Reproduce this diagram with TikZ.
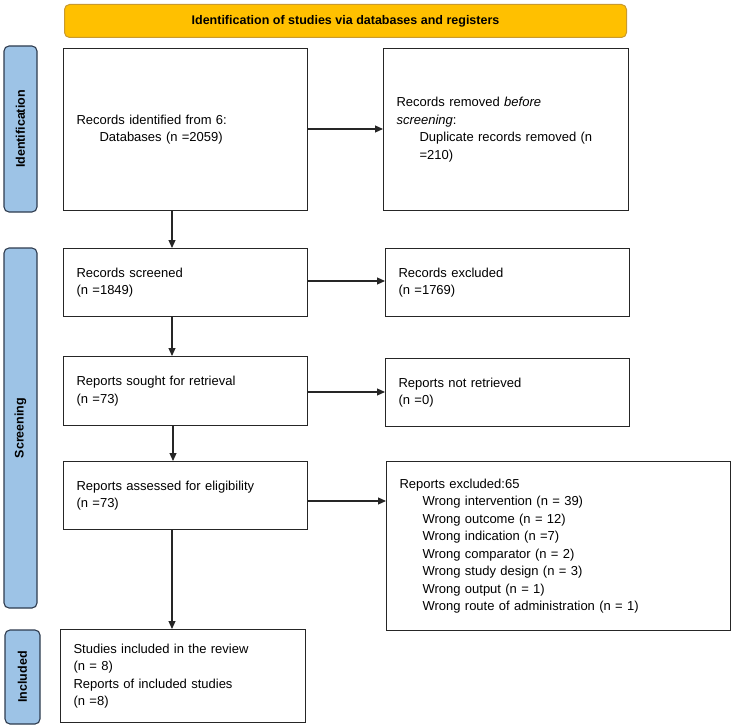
\documentclass[tikz,border=0pt]{standalone}
\usepackage{fontspec}
\setmainfont{Liberation Sans}
\usetikzlibrary{arrows.meta}
\definecolor{bannerfill}{HTML}{FFC000}
\definecolor{bannerdraw}{HTML}{C99A2E}
\definecolor{sidefill}{HTML}{9DC3E6}
\definecolor{sidedraw}{HTML}{2E3B4E}
\tikzset{
  box/.style={draw=black!85, line width=1.1pt, fill=white, inner sep=0pt, align=left, font=\fontsize{13}{17.5}\selectfont},
  side/.style={draw=sidedraw, fill=sidefill, line width=1.1pt, rounded corners=5pt},
  sidetext/.style={rotate=90, font=\bfseries\fontsize{12.5}{15}\selectfont},
  arr/.style={-{Triangle[length=8pt,width=7pt]}, line width=1.1pt, black!85},
}
\newcommand{\bx}[6]{% name, x1,y1,x2,y2, text
  \node[box, minimum width={#4-#2}, minimum height={#5-#3}, text width={#4-#2-26}, anchor=north west] (#1) at (#2,#3) {#6};}
\begin{document}
\begin{tikzpicture}[x=1pt,y=-1pt]
\useasboundingbox (0,0) rectangle (733,725);
% banner
\node[draw=bannerdraw, fill=bannerfill, line width=1pt, rounded corners=5pt, minimum width=562pt, minimum height=33pt, anchor=north west, font=\bfseries\fontsize{12.5}{15}\selectfont] (banner) at (64,4) {Identification of studies via databases and registers};
% side labels
\draw[side] (4,46) rectangle (37,212);
\node[sidetext] (lid) at (20.5,129) {Identification};
\draw[side] (4,248) rectangle (37,608);
\node[sidetext] (lsc) at (20.5,428) {Screening};
\draw[side] (5,630) rectangle (40,724);
\node[sidetext] (lin) at (22.5,677) {Included};
% boxes
\bx{ident}{63}{48}{307}{210}{Records identified from 6:\\\hspace*{23pt}Databases (n =2059)\\[16pt]}
\bx{removed}{383}{48}{628}{210}{Records removed \textit{before}\\\textit{screening}:\\\hspace*{23pt}Duplicate records removed (n\\\hspace*{23pt}=210)\\[16pt]}
\bx{screened}{63}{248}{307}{316}{Records screened\\(n =1849)\\[4pt]}
\bx{excluded}{385}{248}{629}{316}{Records excluded\\(n =1769)\\[4pt]}
\bx{sought}{63}{356}{307}{425}{Reports sought for retrieval\\(n =73)\\[4pt]}
\bx{notret}{385}{358}{629}{426}{Reports not retrieved\\(n =0)\\[4pt]}
\bx{assessed}{63}{461}{307}{529}{Reports assessed for eligibility\\(n =73)\\[4pt]}
\bx{repexcl}{386}{461}{730}{630}{Reports excluded:65\\
\hspace*{23pt}Wrong intervention (n = 39)\\
\hspace*{23pt}Wrong outcome (n = 12)\\
\hspace*{23pt}Wrong indication (n =7)\\
\hspace*{23pt}Wrong comparator (n = 2)\\
\hspace*{23pt}Wrong study design (n = 3)\\
\hspace*{23pt}Wrong output (n = 1)\\
\hspace*{23pt}Wrong route of administration (n = 1)\\[16pt]}
\bx{included}{60}{629}{305}{722}{Studies included in the review\\(n = 8)\\Reports of included studies\\(n =8)}
% arrows
\draw[arr] (ident.east |- 0,129) -- (removed.west |- 0,129);
\draw[arr] (screened.east |- 0,281) -- (excluded.west |- 0,281);
\draw[arr] (sought.east |- 0,392) -- (notret.west |- 0,392);
\draw[arr] (assessed.east |- 0,501) -- (repexcl.west |- 0,501);
\draw[arr] (172,210) -- (screened.north -| 172,0);
\draw[arr] (172,316) -- (sought.north -| 172,0);
\draw[arr] (173,425) -- (assessed.north -| 173,0);
\draw[arr] (172,529) -- (included.north -| 172,0);
\end{tikzpicture}
\end{document}
